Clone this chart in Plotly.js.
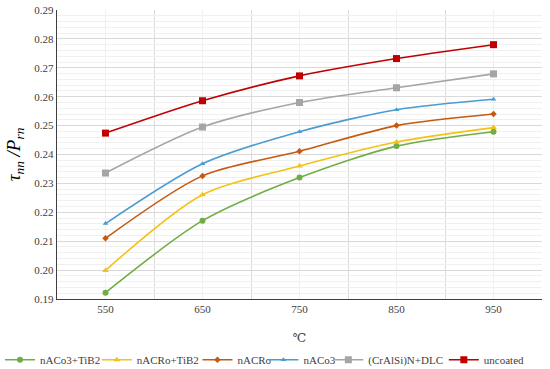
<!DOCTYPE html>
<html><head><meta charset="utf-8">
<script src="https://cdn.plot.ly/plotly-3.0.1.min.js"></script>
<style>html,body{margin:0;padding:0;background:#fff}#chart{width:550px;height:369px}</style>
</head><body><div id="chart"></div>
<script>
const temps = [550, 650, 750, 850, 950];
const tickLabels = ['550', '650', '750', '850', '950'];
const seriesNames = ['nACo3+TiB2', 'nACRo+TiB2', 'nACRo', 'nACo3', '(CrAlSi)N+DLC', 'uncoated'];
const nACo3TiB2 = [0.1922, 0.2171, 0.2320, 0.2429, 0.2479];
const nACRoTiB2 = [0.1999, 0.2261, 0.2360, 0.2443, 0.2493];
const nACRo = [0.2110, 0.2326, 0.2411, 0.2500, 0.2540];
const nACo3 = [0.2161, 0.2368, 0.2479, 0.2555, 0.2591];
const CrAlSiN_DLC = [0.2336, 0.2495, 0.2580, 0.2631, 0.2679];
const uncoated = [0.2474, 0.2586, 0.2672, 0.2732, 0.2780];

const values = [nACo3TiB2, nACRoTiB2, nACRo, nACo3, CrAlSiN_DLC, uncoated];
const colors = ['#70AD47', '#F2C314', '#C55A11', '#4A9BD0', '#A5A5A5', '#C00000'];
const symbols = ['circle', 'triangle-up', 'diamond', 'triangle-up', 'square', 'square'];
const sizes = [6, 6, 5, 5, 7, 7];
// legend entry positions (container fraction) for each entry
const legendX = [0, 0.176, 0.359, 0.479, 0.597, 0.807];
const legendKeys = ['legend', 'legend2', 'legend3', 'legend4', 'legend5', 'legend6'];

const font = 'Liberation Serif, DejaVu Serif, serif';

const traces = values.map((v, i) => ({
  x: temps, y: v, name: seriesNames[i], type: 'scatter', mode: 'lines+markers',
  line: {color: colors[i], width: 1.6, shape: 'spline', smoothing: 0.8},
  marker: {color: colors[i], symbol: symbols[i], size: sizes[i]},
  legend: legendKeys[i]
}));

const layout = {
  width: 550, height: 369,
  margin: {l: 57, r: 8, t: 10, b: 70},
  paper_bgcolor: '#fff', plot_bgcolor: '#fff',
  font: {family: font, size: 11, color: '#404040'},
  showlegend: true,
  xaxis: {
    range: [500, 1000], tickvals: temps, ticktext: tickLabels,
    showgrid: true, gridcolor: '#f0f0f0', gridwidth: 1,
    minor: {tick0: 500, dtick: 100, showgrid: true, gridcolor: '#dcdcdc', gridwidth: 1, ticklen: 0},
    showline: true, linecolor: '#404040', linewidth: 1.2, ticks: '', zeroline: false,
    title: {text: '℃', font: {family: font, size: 12, color: '#404040'}, standoff: 19},
    tickfont: {family: font, size: 11, color: '#404040'}, automargin: false
  },
  yaxis: {
    range: [0.19, 0.29], dtick: 0.01, tickformat: '.2f',
    showgrid: true, gridcolor: '#d9d9d9', gridwidth: 1,
    minor: {dtick: 0.002, showgrid: true, gridcolor: '#f0f0f0', gridwidth: 1, ticklen: 0},
    showline: true, linecolor: '#404040', linewidth: 1.2, ticks: '', zeroline: false,
    title: {text: '<i>τ<sub>nn</sub> /P<sub>rn</sub></i>', font: {family: font, size: 19, color: '#000'}, standoff: 8},
    tickfont: {family: font, size: 11, color: '#404040'}, automargin: false
  }
};
legendKeys.forEach((k, i) => {
  layout[k] = {orientation: 'h', xref: 'container', yref: 'container', x: legendX[i], xanchor: 'left',
               y: 0.025, yanchor: 'middle', bgcolor: 'rgba(0,0,0,0)', itemwidth: 30,
               font: {family: font, size: 11, color: '#404040'}};
});
Plotly.newPlot('chart', traces, layout, {displayModeBar: false, staticPlot: true});
</script></body></html>
